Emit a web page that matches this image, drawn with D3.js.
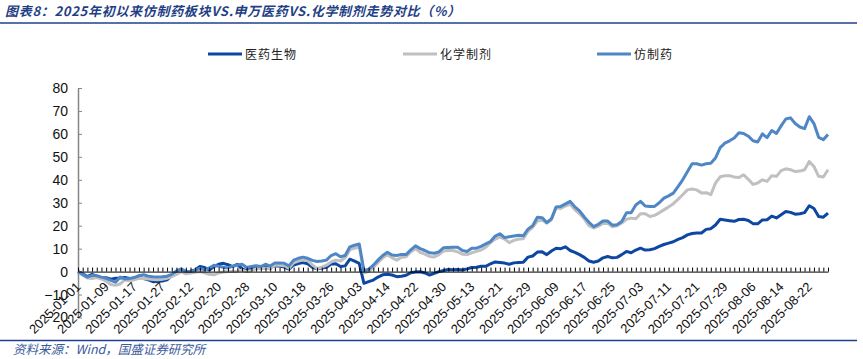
<!DOCTYPE html>
<html><head><meta charset="utf-8">
<script src="https://cdn.jsdelivr.net/npm/d3@7/dist/d3.min.js"></script>
<style>
body{margin:0;background:#fff;}
svg{display:block;}
</style></head>
<body>
<svg id="c" width="863" height="359"></svg>
<script>
const titleText = "图表8：2025年初以来仿制药板块VS.申万医药VS.化学制剂走势对比（%）";
const sourceText = "资料来源：Wind，国盛证券研究所";
const seriesNames = ["医药生物", "化学制剂", "仿制药"];
const dates = ("01-01 01-02 01-03 01-06 01-07 01-08 01-09 01-10 01-13 01-14 01-15 01-16 01-17 01-20 01-21 01-22 01-23 01-24 01-27 " +
 "02-05 02-06 02-07 02-10 02-11 02-12 02-13 02-14 02-17 02-18 02-19 02-20 02-21 02-24 02-25 02-26 02-27 02-28 " +
 "03-03 03-04 03-05 03-06 03-07 03-10 03-11 03-12 03-13 03-14 03-17 03-18 03-19 03-20 03-21 03-24 03-25 03-26 03-27 03-28 03-31 " +
 "04-01 04-02 04-03 04-07 04-08 04-09 04-10 04-11 04-14 04-15 04-16 04-17 04-18 04-21 04-22 04-23 04-24 04-25 04-28 04-29 04-30 " +
 "05-06 05-07 05-08 05-09 05-12 05-13 05-14 05-15 05-16 05-19 05-20 05-21 05-22 05-23 05-26 05-27 05-28 05-29 05-30 " +
 "06-03 06-04 06-05 06-06 06-09 06-10 06-11 06-12 06-13 06-16 06-17 06-18 06-19 06-20 06-23 06-24 06-25 06-26 06-27 06-30 " +
 "07-01 07-02 07-03 07-04 07-07 07-08 07-09 07-10 07-11 07-14 07-15 07-16 07-17 07-18 07-21 07-22 07-23 07-24 07-25 07-28 07-29 07-30 07-31 " +
 "08-01 08-04 08-05 08-06 08-07 08-08 08-11 08-12 08-13 08-14 08-15 08-18 08-19 08-20 08-21 08-22 08-25 08-26 08-27 08-28")
 .split(" ").map(d => "2025-" + d);

const yiyao = [0,-1.0,-2.2,-1.2,-2.0,-2.9,-2.7,-3.3,-2.9,-2.8,-2.6,-3.0,-3.2,-2.6,-3.0,-3.6,-4.4,-4.3,-4.1,-3.6,
 -1.8,-0.5,0.7,0.0,0.2,0.7,2.2,1.8,0.7,2.2,3.2,3.6,3.0,2.2,3.2,1.2,0.3,1.5,1.9,2.2,
 1.8,1.8,2.6,2.4,2.0,1.1,2.9,3.5,3.9,3.4,1.9,1.2,1.6,1.9,3.3,3.4,2.2,2.5,5.4,4.6,
 3.6,-5.1,-4.4,-3.7,-2.4,-1.4,-1.2,-1.5,-2.2,-2.0,-1.6,-0.5,-0.2,-0.1,-0.6,-1.5,-0.8,0.0,0.5,0.9,
 0.8,0.9,0.7,1.2,1.8,1.9,2.3,2.3,3.4,4.2,4.0,3.7,3.2,3.8,4.0,4.1,6.3,6.8,8.5,8.6,
 7.4,9.0,10.2,10.0,10.8,9.2,8.4,7.4,6.2,4.6,4.1,4.6,6.0,6.6,6.0,6.2,7.4,8.8,8.2,9.4,
 10.2,9.4,9.5,10.0,11.0,11.8,12.4,13.0,14.0,14.8,16.0,16.6,16.8,16.8,18.4,18.7,20.3,22.8,22.5,22.2,
 21.9,22.7,22.8,22.3,20.9,20.8,22.5,22.6,24.2,23.4,24.8,26.2,25.8,25.0,25.2,25.7,28.7,27.5,24.0,23.7,25.5];

const huaxue = [0,-1.6,-2.8,-3.0,-2.6,-3.2,-4.2,-5.6,-6.0,-5.4,-3.6,-4.0,-3.6,-2.9,-3.0,-3.2,-3.4,-3.6,-3.3,-2.9,
 -2.2,-1.2,0.0,-1.0,-0.6,-0.3,0.0,-0.5,-1.2,-1.4,-0.6,-0.2,0.0,0.0,0.2,0.7,0.0,0.5,1.2,1.3,
 1.5,1.2,2.9,2.8,2.5,1.5,3.8,4.6,5.1,4.8,2.9,1.3,1.9,2.8,4.2,5.0,4.6,6.0,9.5,10.2,
 10.8,-0.5,0.0,1.8,4.0,6.0,7.3,6.0,5.0,6.3,6.5,8.7,10.0,8.4,7.6,6.6,6.4,7.4,9.0,9.2,
 9.2,8.6,7.6,7.4,8.2,8.8,9.4,10.6,12.6,14.2,15.0,14.2,12.6,13.6,14.2,14.3,17.5,19.4,22.0,22.5,
 21.1,22.6,27.8,27.5,28.6,29.3,27.0,25.2,23.0,20.0,19.0,19.8,21.0,21.0,19.5,20.0,21.2,22.8,23.3,23.0,
 25.2,25.2,24.0,24.5,25.6,26.9,28.2,29.6,31.5,33.5,35.6,36.0,35.6,34.3,34.4,33.5,38.6,41.3,41.8,41.8,
 41.2,41.0,42.2,40.2,38.0,38.6,40.0,39.3,41.8,41.5,44.0,44.8,44.4,43.6,43.8,44.4,48.0,45.8,41.5,41.2,44.4];

const fangzhi = [0,-1.2,-2.4,-1.6,-1.8,-2.4,-2.9,-3.8,-4.6,-2.4,-3.2,-3.0,-2.6,-1.8,-1.4,-2.0,-2.2,-2.3,-2.2,-2.0,
 -1.2,0.3,1.2,0.1,0.0,0.6,1.4,0.8,1.6,2.8,2.3,1.9,1.6,2.4,2.9,3.2,1.8,2.2,2.6,2.2,
 3.2,2.4,3.8,3.8,3.6,2.5,5.0,5.8,6.3,5.8,4.9,4.4,4.6,5.0,7.0,7.8,6.5,7.0,10.8,11.5,
 12.0,0.4,1.0,2.8,5.0,7.0,8.4,7.2,7.0,7.5,7.4,9.5,11.2,10.0,9.2,8.2,8.0,8.6,10.4,10.5,
 10.6,10.6,9.2,8.8,10.2,10.2,11.0,12.1,13.1,15.5,16.5,14.8,15.2,15.5,15.8,15.6,18.5,20.0,23.7,23.5,
 21.4,23.0,28.2,28.4,29.5,30.6,28.2,26.5,23.8,21.5,19.6,20.6,22.0,22.0,20.2,20.4,21.8,25.6,25.6,29.0,
 30.6,28.6,28.4,28.4,30.0,32.0,33.0,34.2,37.0,40.0,43.5,47.0,47.0,46.4,47.0,47.2,49.5,54.0,56.0,57.0,
 58.2,60.5,60.2,59.0,57.0,56.5,60.0,58.4,61.5,60.2,63.5,66.5,67.0,64.5,63.0,62.3,67.5,64.5,58.5,57.5,59.7];

const yTicks = [-20,-10,0,10,20,30,40,50,60,70,80];
const xTickLabels = dates.filter((d, i) => i % 6 === 0);

const colors = ["#0d47a1", "#c0c0c0", "#4f86c6"];
const seriesData = [yiyao, huaxue, fangzhi];

const svg = d3.select("#c");
const x = d3.scalePoint().domain(dates).range([78, 828]);
const y = d3.scaleLinear().domain([-20, 80]).range([317.5, 88]);

// title and rules
svg.append("text").attr("x", 5).attr("y", 16)
  .attr("font-family", "Noto Sans CJK SC").attr("font-size", 13)
  .attr("font-weight", "bold").attr("font-style", "italic").attr("letter-spacing", 0.7)
  .attr("fill", "#1f3f85").text(titleText);
svg.append("line").attr("x1", 0).attr("x2", 857).attr("y1", 23).attr("y2", 23)
  .attr("stroke", "#1f3f8f").attr("stroke-width", 1.5);
svg.append("line").attr("x1", 0).attr("x2", 857).attr("y1", 340.5).attr("y2", 340.5)
  .attr("stroke", "#1f3f8f").attr("stroke-width", 1.5);
svg.append("text").attr("x", 13).attr("y", 354)
  .attr("font-family", "Noto Sans CJK SC").attr("font-size", 12.5)
  .attr("font-style", "italic").attr("fill", "#3a5a9c").text(sourceText);

// legend
const legendX = [208, 403, 597];
seriesNames.forEach((n, i) => {
  svg.append("line").attr("x1", legendX[i]).attr("x2", legendX[i] + 34)
    .attr("y1", 54).attr("y2", 54).attr("stroke", colors[i]).attr("stroke-width", 3);
  svg.append("text").attr("x", legendX[i] + 37).attr("y", 58.5)
    .attr("font-family", "Noto Sans CJK SC").attr("font-size", 12)
    .attr("letter-spacing", 1).attr("fill", "#222").text(n);
});

// y axis
const ya = svg.append("g").attr("transform", "translate(78,0)")
  .call(d3.axisLeft(y).tickValues(yTicks).tickSizeInner(-4).tickSizeOuter(0).tickPadding(10));
ya.select(".domain").attr("stroke", "#868686").attr("stroke-width", 1.5);
ya.selectAll(".tick line").attr("stroke", "#868686");
ya.selectAll("text").attr("font-family", "Liberation Sans, Arial").attr("font-size", 14).attr("fill", "#111");

// lines
const line = d3.line().x((d, i) => x(dates[i])).y(d => y(d));
seriesData.forEach((s, i) => {
  svg.append("path").datum(s).attr("d", line).attr("fill", "none")
    .attr("stroke", colors[i]).attr("stroke-width", 3)
    .attr("stroke-linejoin", "round");
});

// x axis (zero line with small ticks)
const xa = svg.append("g").attr("transform", `translate(0,${y(0)})`)
  .call(d3.axisBottom(x).tickSizeInner(-4).tickSizeOuter(0).tickFormat(""));
xa.select(".domain").attr("stroke", "#000").attr("stroke-width", 1);
xa.selectAll(".tick line").attr("stroke", "#000");

const xl = svg.append("g").attr("transform", `translate(0,${y(0)})`)
  .call(d3.axisBottom(x).tickValues(xTickLabels).tickSize(0).tickPadding(0));
xl.select(".domain").remove();
xl.selectAll("text")
  .attr("font-family", "Liberation Sans, Arial").attr("font-size", 13).attr("fill", "#111")
  .attr("text-anchor", "end").attr("dy", null).attr("y", null)
  .attr("transform", "translate(3,16) rotate(-45)");
</script>
</body></html>
